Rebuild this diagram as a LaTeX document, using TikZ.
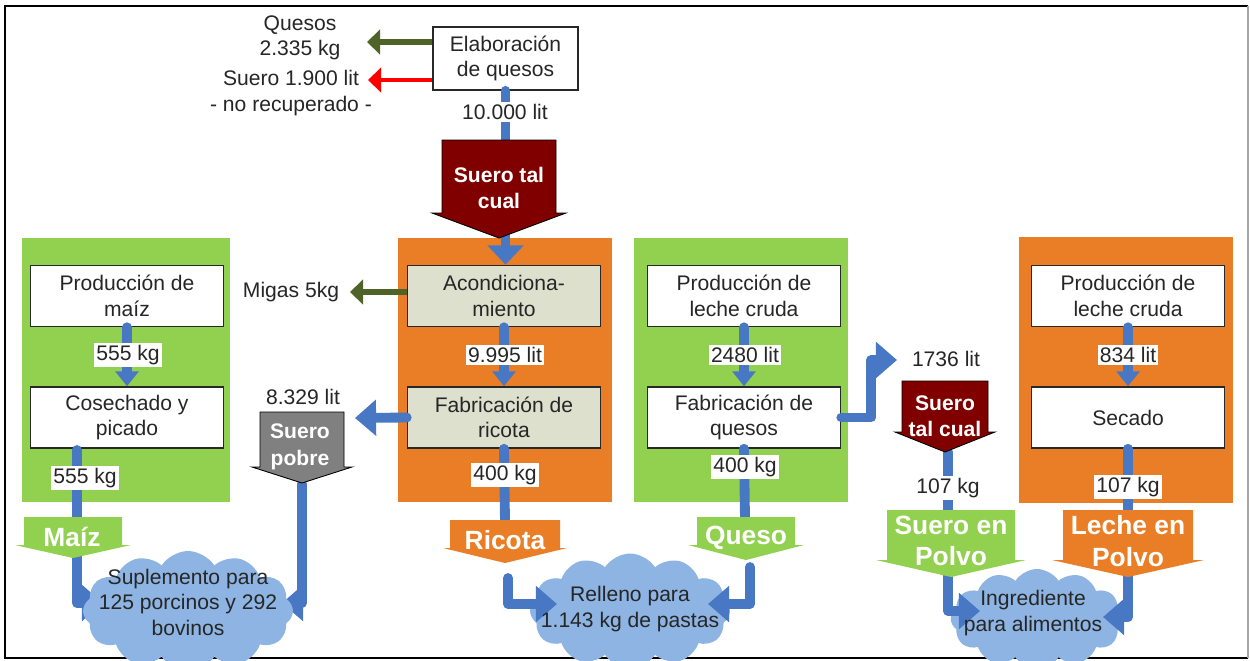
\documentclass[tikz,border=0pt]{standalone}
\usepackage{fontspec}
\setmainfont{Liberation Sans}
\usetikzlibrary{arrows.meta,shapes.symbols}

\definecolor{pgreen}{RGB}{146,208,80}
\definecolor{porange}{RGB}{234,126,38}
\definecolor{fblue}{RGB}{72,120,195}
\definecolor{cloudc}{RGB}{141,180,226}
\definecolor{wheyred}{RGB}{128,0,0}
\definecolor{wheygray}{RGB}{128,128,128}
\definecolor{olivec}{RGB}{79,98,40}
\definecolor{pale}{RGB}{221,224,205}
\definecolor{txt}{RGB}{38,38,38}
\definecolor{boxline}{RGB}{40,40,40}

% block arrow pointing down: style, centre x, half body width, half head width, top, head start, tip
\newcommand{\downblock}[7]{%
  \path[#1] (#2-#3,#5) -- (#2+#3,#5) -- (#2+#3,#6) -- (#2+#4,#6) -- (#2,#7)
            -- (#2-#4,#6) -- (#2-#3,#6) -- cycle;}

\begin{document}
\begin{tikzpicture}[x=0.02cm,y=-0.02cm,
  base/.style={font=\fontsize{12}{14.5}\selectfont, text=txt},
  procbox/.style={base, draw=boxline, line width=0.9pt, fill=white,
    minimum width=3.86cm, minimum height=1.22cm, inner sep=0pt, align=center},
  panel/.style={draw=none},
  flow/.style={draw=fblue, line width=5.6pt, line cap=round, line join=round},
  smalltip/.style={-{Triangle[width=13pt,length=8.5pt]}},
  bigtip/.style={-{Triangle[width=20pt,length=12pt]}},
  side/.style={line width=3.2pt, -{Triangle[width=14pt,length=7.5pt]}},
  qty/.style={base, fill=white, inner sep=1.2pt},
  plain/.style={base, align=center, inner sep=0pt},
  prodlbl/.style={text=white, font=\bfseries\fontsize{15}{18}\selectfont, align=center, inner sep=0pt},
  wheylbl/.style={text=white, font=\bfseries\fontsize{12}{14.5}\selectfont, align=center, inner sep=0pt},
  puff/.style={cloud, cloud puffs=12, cloud puff arc=115, cloud ignores aspect,
    fill=cloudc, draw=none, inner sep=0pt},
]
\useasboundingbox (0,0) rectangle (1250,660);
\clip (0,0) rectangle (1250,660);
\fill[white] (0,0) rectangle (1250,660);

% frame
\draw[black, line width=1.3pt] (1248,6) -- (5,6) -- (5,658) -- (1248,658);
\draw[black!35, line width=0.6pt] (1248,6) -- (1248,658);

% coloured panels
\fill[pgreen]  (22,238) rectangle (230,502);
\fill[porange] (398,238) rectangle (612,502);
\fill[pgreen]  (634,238) rectangle (848,502);
\fill[porange] (1019,237) rectangle (1233,503);

% process boxes
\node[procbox, minimum width=2.9cm, minimum height=1.26cm] (elab) at (505.5,58.5) {Elaboración\\de quesos};
\node[procbox] (maizbox) at (127,296) {Producción de\\maíz};
\node[procbox] (cosech) at (127,417.5) {Cosechado y\\picado};
\node[procbox, fill=pale] (acond) at (504,296) {Acondiciona-\\miento};
\node[procbox, fill=pale] (ricbox) at (504,417.5) {Fabricación de\\ricota};
\node[procbox] (prodlc1) at (744,296) {Producción de\\leche cruda};
\node[procbox] (fabq) at (744,417.5) {Fabricación de\\quesos};
\node[procbox] (prodlc2) at (1128,296) {Producción de\\leche cruda};
\node[procbox] (secado) at (1128,417.5) {Secado};

% clouds that lie under their incoming arrows
\node[puff, minimum width=4.0cm, minimum height=2.3cm] (relleno) at (630,611) {};
\node[puff, minimum width=3.45cm, minimum height=2.0cm] (ingred) at (1037,619) {};

% free ends of connectors
\coordinate (quesosout) at (367,42);
\coordinate (sueroout) at (368,80);
\coordinate (migasout) at (350,292);
\coordinate (pobrein) at (355,418);
\coordinate (pobretip) at (302,484);
\coordinate (supright) at (282,603);
\coordinate (cosechout) at (77,450);
\coordinate (supleft) at (103,603);
\coordinate (ricin) at (505,522);
\coordinate (ricout) at (508,578);
\coordinate (relleft) at (557,604);
\coordinate (quesoin) at (745,519);
\coordinate (quesoout) at (750,567);
\coordinate (relright) at (708,604);
\coordinate (out1736) at (897,360);
\coordinate (tc2tip) at (948,452);
\coordinate (ingleft) at (980,611);
\coordinate (ingright) at (1103,617);

% side outputs of the cheese plant and conditioning
\draw[side, olivec] (elab.west |- quesosout) -- (quesosout);
\draw[side, red, line width=2.8pt] (elab.west |- sueroout) -- (sueroout);
\draw[side, olivec] (acond.west |- migasout) -- (migasout);

% blue flows
\draw[flow, -{Triangle[width=20pt,length=11pt]}] (elab.south) -- (elab.south |- acond.north);
\draw[flow, smalltip] (acond.south) -- (ricbox.north);
\draw[flow] (ricbox.south) -- (ricin);
\draw[flow, bigtip] (ricbox.west) -- (pobrein);
\draw[flow, bigtip] (pobretip) |- (supright);
\draw[flow, smalltip] (maizbox.south) -- (cosech.north);
\draw[flow, bigtip] (cosechout) |- (supleft);
\draw[flow, smalltip] (prodlc1.south) -- (fabq.north);
\draw[flow] (fabq.south) -- (quesoin);
\draw[flow, bigtip] (fabq.east) -- ++(30,0) |- (out1736);
\draw[flow, bigtip] (ricout) |- (relleft);
\draw[flow, bigtip] (quesoout) |- (relright);
\draw[flow, bigtip] (tc2tip) |- (ingleft);
\draw[flow, smalltip] (prodlc2.south) -- (secado.north);
\draw[flow, bigtip] (secado.south) |- (ingright);

% whey and product block arrows
\downblock{fill=wheyred, draw=black, line width=0.5pt}{499}{57}{67}{140}{213}{238}
\node[wheylbl] (tc1lbl) at (499,188) {Suero tal\\cual};
\downblock{fill=wheygray, draw=black, line width=0.5pt}{302}{42}{50}{412}{467}{483}
\node[wheylbl, font=\bfseries\fontsize{12}{15.3}\selectfont] (pobrelbl) at (300,447) {Suero\\pobre};
\downblock{fill=wheyred, draw=black, line width=0.5pt}{945}{43}{50}{381}{432}{452}
\node[wheylbl] (tc2lbl) at (945,416) {Suero\\tal cual};
\downblock{fill=pgreen}{73}{49}{58}{517}{545}{558}
\node[prodlbl] (maizlbl) at (72,537) {Maíz};
\downblock{fill=porange}{505}{55}{62}{520}{548}{563}
\node[prodlbl] (riclbl) at (505,540) {Ricota};
\downblock{fill=pgreen}{746}{49}{58}{517}{545}{560}
\node[prodlbl] (quesolbl) at (746,538) {Queso};
\downblock{fill=pgreen}{951}{64}{75}{510}{560}{577}
\node[prodlbl] (splbl) at (951,541) {Suero en\\Polvo};
\downblock{fill=porange}{1128}{65}{76}{510}{560}{577}
\node[prodlbl] (lplbl) at (1128,541) {Leche en\\Polvo};

% cloud drawn over its incoming arrows
\node[puff, minimum width=4.2cm, minimum height=2.4cm] (suple) at (188,611) {};

% cloud texts
\node[plain] (supletxt) at (188,602) {Suplemento para\\125 porcinos y 292\\bovinos};
\node[plain] (rellenotxt) at (630,609) {Relleno para\\1.143 kg de pastas};
\node[plain] (ingredtxt) at (1033,613) {Ingrediente\\para alimentos};

% quantities on the flows
\node[qty] (q10000) at (505,112) {10.000 lit};
\node[qty] (q555a) at (128,355) {555 kg};
\node[qty] (q555b) at (85,478) {555 kg};
\node[qty] (q9995) at (505,355) {9.995 lit};
\node[qty] (q400r) at (505,475) {400 kg};
\node[qty] (q2480) at (745,355) {2480 lit};
\node[qty] (q400q) at (745,467) {400 kg};
\node[qty] (q834) at (1128,355) {834 lit};
\node[qty] (q107a) at (948,488) {107 kg};
\node[qty] (q107b) at (1128,487) {107 kg};

% free-standing texts
\node[plain] (quesostxt) at (300,38) {Quesos\\2.335 kg};
\node[plain] (suerotxt) at (291,93) {Suero 1.900 lit\\- no recuperado -};
\node[plain] (migastxt) at (291,292) {Migas 5kg};
\node[plain] (t8329) at (303,397) {8.329 lit};
\node[plain] (t1736) at (946,359) {1736 lit};
\end{tikzpicture}
\end{document}
